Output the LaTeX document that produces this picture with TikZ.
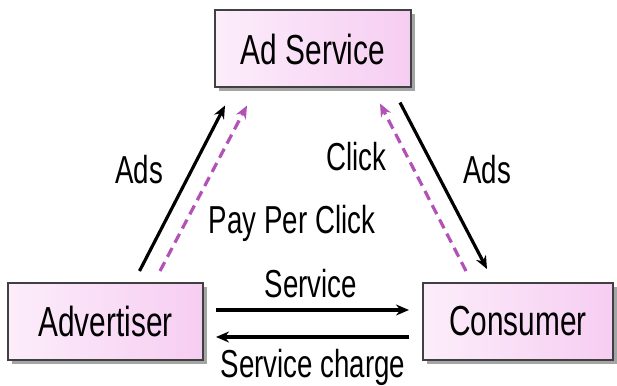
\documentclass[tikz,border=0pt]{standalone}
\usepackage{fontspec}
\setmainfont{Liberation Sans}[FakeStretch=0.71]
\usepackage{tikz}
\usetikzlibrary{shadows,arrows.meta}
\definecolor{boxpink}{HTML}{F6CDF2}
\definecolor{paypink}{HTML}{B252B6}
\tikzset{
	party/.style={draw=black!75, line width=2pt, left color=boxpink!35, right color=boxpink,
		minimum height=77pt, font=\fontsize{42}{46}\selectfont,
		drop shadow={shadow xshift=3.5pt, shadow yshift=-3.5pt, fill=black!70}},
	flow/.style={line width=3.2pt, -{Stealth[length=13pt,width=11pt]}},
	payflow/.style={flow, paypink, dash pattern=on 10pt off 6pt},
	lbl/.style={anchor=base, font=\fontsize{39}{43}\selectfont}
}

\begin{document}
\begin{tikzpicture}[x=1pt,y=-1pt]
	\useasboundingbox (0,0) rectangle (617,385);
	\node[party, minimum width=196pt] (ad) at (313,49) {Ad Service};
	\node[party, minimum width=195pt] (adv) at (105.5,321.5) {Advertiser};
	\node[party, minimum width=190pt] (con) at (518,321.5) {Consumer};
	% ads and clicks
	\draw[flow] ([xshift=34pt,yshift=11pt]adv.north) -- ([xshift=-88pt,yshift=-17pt]ad.south);
	\draw[payflow] ([xshift=54.5pt,yshift=11pt]adv.north) -- ([xshift=-66pt,yshift=-17pt]ad.south);
	\draw[flow] ([xshift=87pt,yshift=-14pt]ad.south) -- ([xshift=-31pt,yshift=13pt]con.north);
	\draw[payflow] ([xshift=-52pt,yshift=11pt]con.north) -- ([xshift=67pt,yshift=-15pt]ad.south);
	% service
	\draw[flow] ([xshift=12pt,yshift=11.5pt]adv.east) -- ([xshift=-13pt,yshift=11.5pt]con.west);
	\draw[flow] ([xshift=-13pt,yshift=-15.5pt]con.west) -- ([xshift=12pt,yshift=-15.5pt]adv.east);
	\node[lbl] (adsl) at (139,183) {Ads};
	\node[lbl] (adsr) at (487,183) {Ads};
	\node[lbl] (click) at (356,170) {Click};
	\node[lbl] (ppc) at (292,233) {Pay Per Click};
	\node[lbl] (serv) at (311,297) {Service};
	\node[lbl] (charge) at (313,377) {Service charge};
\end{tikzpicture}
\end{document}
